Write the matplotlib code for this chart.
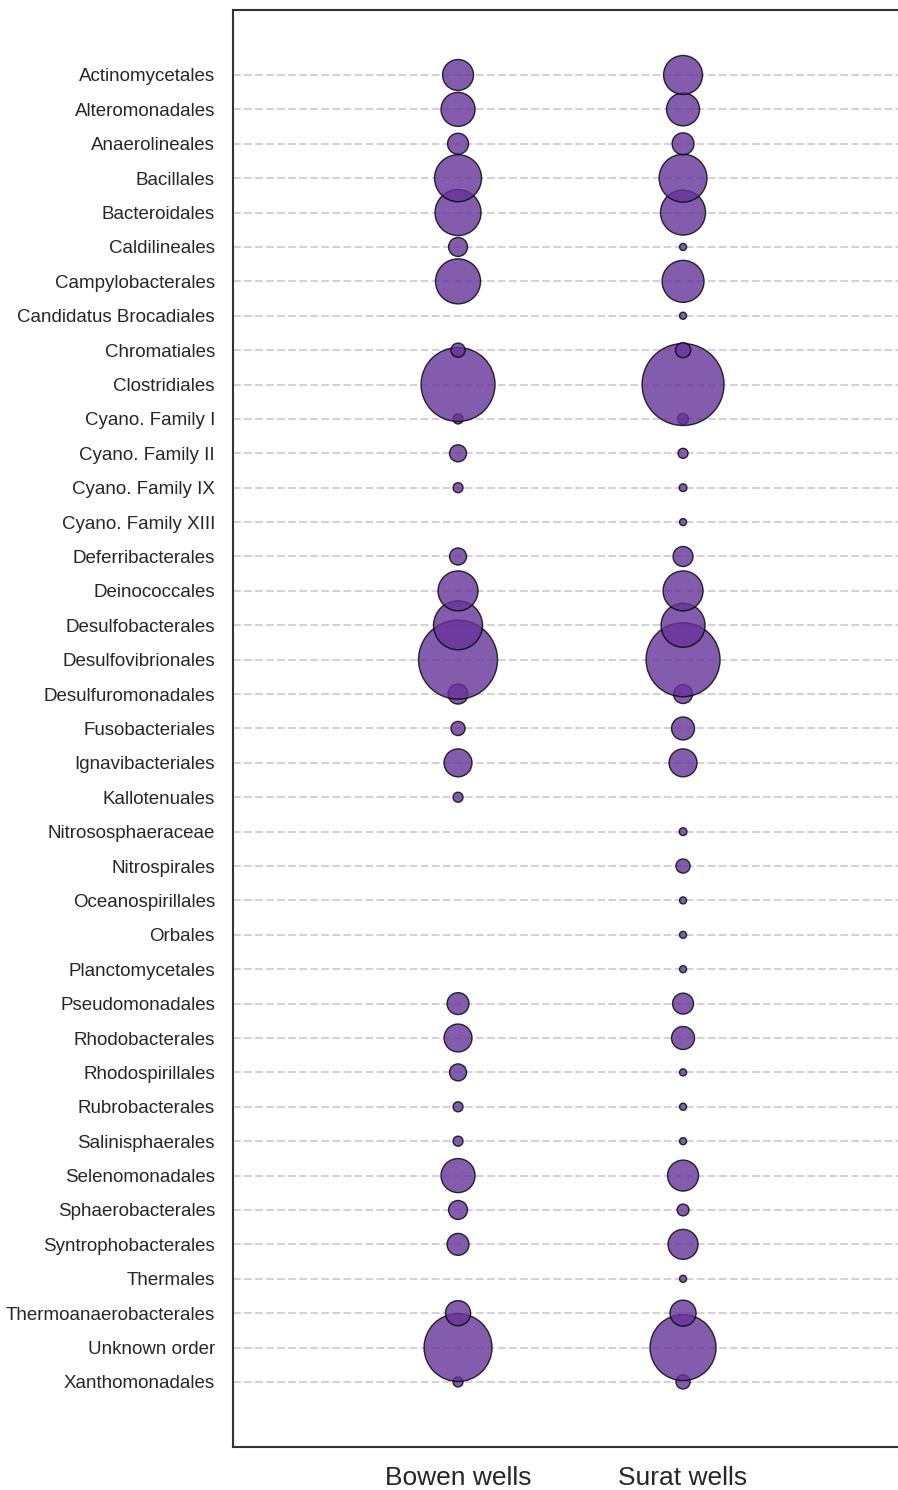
import numpy as np
import matplotlib
matplotlib.use("Agg")
import matplotlib.pyplot as plt

# relative abundance per order
orders = ["Actinomycetales", "Alteromonadales", "Anaerolineales", "Bacillales", "Bacteroidales",
          "Caldilineales", "Campylobacterales", "Candidatus Brocadiales", "Chromatiales", "Clostridiales",
          "Cyano. Family I", "Cyano. Family II", "Cyano. Family IX", "Cyano. Family XIII",
          "Deferribacterales", "Deinococcales", "Desulfobacterales", "Desulfovibrionales",
          "Desulfuromonadales", "Fusobacteriales", "Ignavibacteriales", "Kallotenuales",
          "Nitrososphaeraceae", "Nitrospirales", "Oceanospirillales", "Orbales", "Planctomycetales",
          "Pseudomonadales", "Rhodobacterales", "Rhodospirillales", "Rubrobacterales",
          "Salinisphaerales", "Selenomonadales", "Sphaerobacterales", "Syntrophobacterales",
          "Thermales", "Thermoanaerobacterales", "Unknown order", "Xanthomonadales"]

bowen = [9.6, 11.6, 4.4, 22.1, 21.2, 3.6, 20.3, 0, 2.0, 54.8,
         1.0, 2.9, 1.0, 0, 2.9, 16.0, 24.0, 62.4, 4.0, 2.0, 7.8, 1.0,
         0, 0, 0, 0, 0, 4.8, 7.8, 2.9, 1.0, 1.0, 11.6, 3.6, 4.8,
         0, 6.3, 46.2, 1.0]

surat = [15.2, 10.9, 4.8, 23.0, 20.3, 0.5, 17.6, 0.5, 2.3, 67.2,
         1.2, 1.0, 0.6, 0.5, 4.0, 16.0, 19.4, 54.8, 3.6, 5.3, 7.8, 0,
         0.6, 2.0, 0.5, 0.5, 0.5, 4.4, 5.3, 0.5, 0.5, 0.5, 9.6, 1.4, 9.0,
         0.5, 6.8, 43.6, 2.0]

groups = ["Bowen wells", "Surat wells"]

plt.rcParams['font.family'] = ['Liberation Sans', 'DejaVu Sans']

fig = plt.figure(figsize=(8.98, 14.90), dpi=100)
ax = fig.add_axes([0.2595, 0.0289, 0.7517, 0.9644])

y = np.arange(len(orders))
for i, vals in enumerate([bowen, surat]):
    vals = np.array(vals)
    m = vals > 0
    # bottom rows first so upper bubbles sit on top
    ax.scatter(np.full(m.sum(), i), y[m][::-1], s=vals[m][::-1] * 51.8, color='rebeccapurple',
               alpha=0.8, edgecolors='black', linewidths=1.0, zorder=3)

ax.set_yticks(y)
ax.set_yticklabels(orders, fontsize=13.5, color='#262626')
ax.set_xticks([0, 1])
ax.set_xticklabels(groups, fontsize=19, color='#262626')
ax.tick_params(axis='y', length=0, pad=13)
ax.tick_params(axis='x', length=0, pad=14)
ax.set_xlim(-1, 2)
ax.set_ylim(len(orders) - 1 + 1.89, -1.89)

ax.grid(axis='y', linestyle='--', color='#d3d3d3', linewidth=1.5, zorder=0)
ax.set_axisbelow(True)
for sp in ax.spines.values():
    sp.set_color('#333333')
    sp.set_linewidth(1.5)

fig.savefig("out.png", dpi=100)
